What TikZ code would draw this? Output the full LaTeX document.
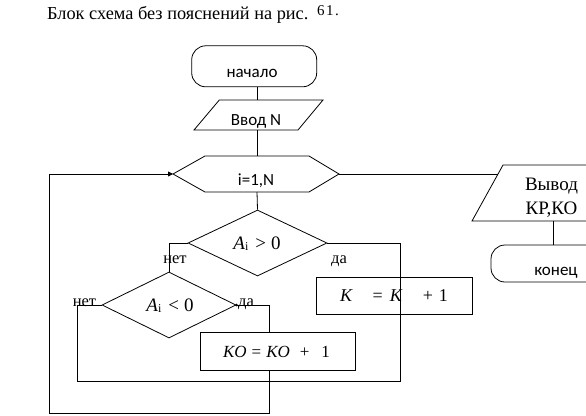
\documentclass[tikz,border=0pt]{standalone}
\usepackage{fontspec}
\setmainfont{Liberation Serif}
\newfontfamily\sansf{Carlito}
\usetikzlibrary{shapes.geometric,arrows.meta}
\begin{document}
\begin{tikzpicture}[x=1pt,y=-1pt,
  line/.style={draw=black,line width=0.8pt},
  box/.style={draw=black,line width=0.8pt,rectangle,inner sep=0pt},
  term/.style={box,rounded corners=14pt},
  dec/.style={draw=black,line width=0.8pt,diamond,inner sep=0pt},
  stxt/.style={inner sep=0pt,anchor=base,font=\sansf\fontsize{17}{20}\selectfont},
  rtxt/.style={inner sep=0pt,anchor=base,font=\fontsize{17}{20}\selectfont},
  mtxt/.style={inner sep=0pt,anchor=base,font=\fontsize{19}{22}\selectfont},
  otxt/.style={inner sep=0pt,anchor=base,font=\fontsize{19}{23}\selectfont},
  lbl/.style={inner sep=0pt,anchor=base,font=\fontsize{16.5}{19}\selectfont},
  arr/.style={-{Triangle[length=5pt,width=5pt]}},
]
\useasboundingbox (0,0) rectangle (586,415);
\clip (0,0) rectangle (586,415);
\fill[white] (0,0) rectangle (586,415);

% title
\node[inner sep=0pt,anchor=base west,font=\fontsize{18.3}{22}\selectfont] (title) at (47,19) {Блок схема без пояснений на рис.};
\node[inner sep=0pt,anchor=base west,font=\fontsize{15}{18}\selectfont] (fignum) at (317,15) {6\kern1.5pt1\kern1.5pt.};

% start
\node[term,minimum width=125pt,minimum height=41pt] (start) at (254.2,66.3) {};
\node[stxt] (starttxt) at (252,77.3) {начало};

% input
\coordinate (inTL) at (219.3,100);
\coordinate (inTR) at (323,100);
\coordinate (inBR) at (298,130);
\coordinate (inBL) at (194,130);
\coordinate (inTop) at (257,100);
\coordinate (inBot) at (257,130);
\draw[line] (inTL) -- (inTR) -- (inBR) -- (inBL) -- cycle;
\node[stxt] (intxt) at (256,125.7) {Ввод N};

% loop hexagon
\coordinate (hL) at (173,174);
\coordinate (hTL) at (205,156);
\coordinate (hTR) at (309,156);
\coordinate (hR) at (339,174);
\coordinate (hBR) at (309,192);
\coordinate (hBL) at (205,192);
\coordinate (hTop) at (257,156);
\coordinate (hBot) at (257,192);
\draw[line] (hL) -- (hTL) -- (hTR) -- (hR) -- (hBR) -- (hBL) -- cycle;
\node[stxt] (looptxt) at (256,185) {i=1,N};

% output
\coordinate (oTL) at (503,165);
\coordinate (oTR) at (640,165);
\coordinate (oBR) at (610,221);
\coordinate (oBL) at (472,221);
\coordinate (oIn) at (498,174);
\coordinate (oBot) at (553,221);
\draw[line] (oTL) -- (oTR) -- (oBR) -- (oBL) -- cycle;
\node[otxt] (outtxta) at (551.5,190.5) {Вывод};
\node[otxt] (outtxtb) at (551.5,214.5) {КР,КО};

% end
\node[term,minimum width=150pt,minimum height=37pt] (stop) at (566,263.5) {};
\node[stxt] (stoptxt) at (556,275) {конец};

% decisions
\node[dec,minimum width=139pt,minimum height=66pt] (d1) at (257.5,243) {};
\node[mtxt] (d1txt) at (257,249.5) {{\itshape A}\raisebox{-0.5pt}{\fontsize{12}{13}\selectfont i}\hspace{7pt}>\hspace{5pt}0};
\node[dec,minimum width=134pt,minimum height=66pt] (d2) at (169,305) {};
\node[mtxt] (d2txt) at (170,311.5) {{\itshape A}\raisebox{-0.5pt}{\fontsize{12}{13}\selectfont i}\hspace{7pt}<\hspace{5pt}0};

% process boxes
\node[box,minimum width=156pt,minimum height=37pt] (kp) at (394,295.5) {};
\node[inner sep=0pt,anchor=base,font=\fontsize{18}{21}\selectfont] (kptxt) at (394,301.7) {{\itshape K}\hspace{20.5pt}=\hspace{7pt}{\itshape K}\hspace{21pt}+\hspace{6pt}1};
\node[box,minimum width=155pt,minimum height=38pt] (ko) at (277.5,351) {};
\node[rtxt] (kotxt) at (276.5,357.3) {{\itshape KO}\hspace{5pt}=\hspace{5pt}{\itshape KO}\hspace{10pt}+\hspace{12pt}1};

% labels
\node[lbl] (no1) at (175,263.3) {нет};
\node[lbl] (yes1) at (339,263.5) {да};
\node[lbl] (no2) at (84.5,306.7) {нет};
\node[lbl] (yes2) at (246,306.7) {да};

% helper coordinates
\coordinate (n1) at (169,243);
\coordinate (r1) at (400,243);
\coordinate (r2) at (400,381);
\coordinate (l2) at (77,381);
\coordinate (l1) at (77,305);
\coordinate (k1) at (269,305);
\coordinate (koIn) at (269,332);
\coordinate (koOut) at (269,370);
\coordinate (b1) at (269,413);
\coordinate (b2) at (49,413);
\coordinate (b3) at (49,174);

% connectors
\draw[line] (start.south -| inTop) -- (inTop);
\draw[line] (inBot) -- (hTop);
\draw[line] (hBot) -- (d1.north);
\draw[line] (hR) -- (oIn);
\draw[line] (oBot) -- (stop.north -| oBot);
\draw[line] (d1.west) -- (n1) -- (d2.north);
\draw[line] (d1.east) -- (r1) -- (r2) -- (l2) -- (l1) -- (d2.west);
\draw[line] (d2.east) -- (k1) -- (koIn);
\draw[line,arr] (koOut) -- (b1) -- (b2) -- (b3) -- (hL);
\fill (d2.east) circle (1.4pt);
\end{tikzpicture}
\end{document}
